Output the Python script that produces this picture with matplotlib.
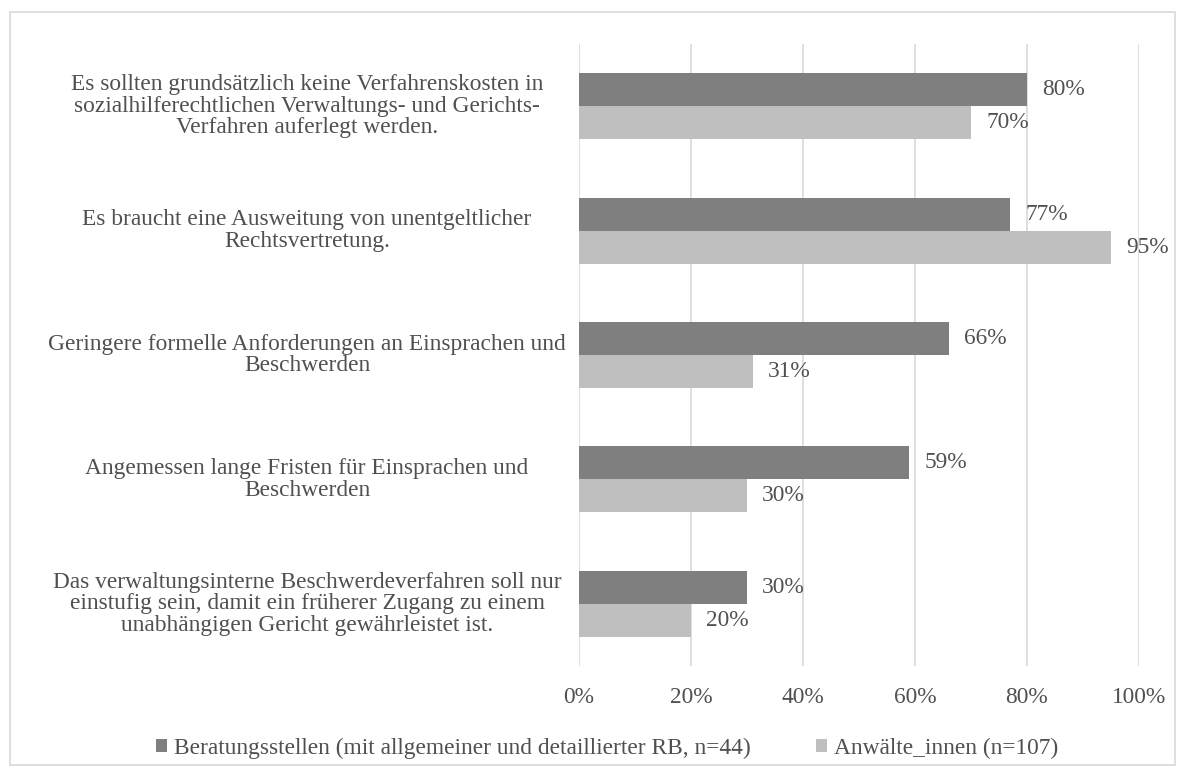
import matplotlib.pyplot as plt
from matplotlib.patches import Rectangle
from matplotlib.ticker import FuncFormatter

# Survey data: share of agreement per statement
statements = [
    "Es sollten grundsätzlich keine Verfahrenskosten in\nsozialhilferechtlichen Verwaltungs- und Gerichts-\nVerfahren auferlegt werden.",
    "Es braucht eine Ausweitung von unentgeltlicher\nRechtsvertretung.",
    "Geringere formelle Anforderungen an Einsprachen und\nBeschwerden",
    "Angemessen lange Fristen für Einsprachen und\nBeschwerden",
    "Das verwaltungsinterne Beschwerdeverfahren soll nur\neinstufig sein, damit ein früherer Zugang zu einem\nunabhängigen Gericht gewährleistet ist.",
]
beratung = [80, 77, 66, 59, 30]
anwaelte = [70, 95, 31, 30, 20]
series_names = [
    "Beratungsstellen (mit allgemeiner und detaillierter RB, n=44)",
    "Anwälte_innen (n=107)",
]

plt.rcParams['font.family'] = ['Liberation Serif', 'DejaVu Serif']
text_col = '#505050'
fs = 16.8

W, H = 1185, 775
fig = plt.figure(figsize=(W / 100, H / 100), dpi=100)
ax = fig.add_axes([579 / W, 1 - 666 / H, 560 / W, 622 / H])

h = 0.265
ys = list(range(len(statements)))
b1 = ax.barh([y - h / 2 for y in ys], beratung, height=h, color='#7f7f7f', label=series_names[0], zorder=2)
b2 = ax.barh([y + h / 2 for y in ys], anwaelte, height=h, color='#bfbfbf', label=series_names[1], zorder=2)

for bars, vals in ((b1, beratung), (b2, anwaelte)):
    for bar, v in zip(bars, vals):
        ax.annotate(f"{v}%", (v, bar.get_y() + bar.get_height() / 2),
                    xytext=(11, 0), textcoords='offset points',
                    ha='left', va='center', fontsize=fs, color=text_col)

ax.set_xlim(0, 100)
ax.set_ylim(len(statements) - 0.5, -0.5)
ax.set_xticks(range(0, 101, 20))
ax.xaxis.set_major_formatter(FuncFormatter(lambda v, _: f"{v:.0f}%"))
ax.tick_params(axis='x', length=0, pad=15, labelsize=fs, labelcolor=text_col)
ax.set_yticks([])
ax.grid(axis='x', color='#d9d9d9', linewidth=1.2, zorder=0)
for s in ax.spines.values():
    s.set_visible(False)

# category labels, centred in the space left of the plot
for y, txt in zip(ys, statements):
    ax.text((307 - 579) / 560, y, txt, transform=ax.get_yaxis_transform(),
            ha='center', va='center', multialignment='center',
            fontsize=fs, color=text_col, linespacing=1.04)

fig.legend(handles=[b1, b2], labels=series_names, loc='center',
           bbox_to_anchor=(607 / W, 1 - 748 / H), ncol=2, frameon=False,
           fontsize=fs, labelcolor=text_col, handlelength=0.47, handleheight=0.47,
           handletextpad=0.3, columnspacing=2.8)

fig.patches.append(Rectangle((10 / W, 1 - 765 / H), 1165 / W, 753 / H,
                             transform=fig.transFigure, fill=False,
                             edgecolor='#d9d9d9', linewidth=1.2))

fig.savefig('out.png', dpi=100)
